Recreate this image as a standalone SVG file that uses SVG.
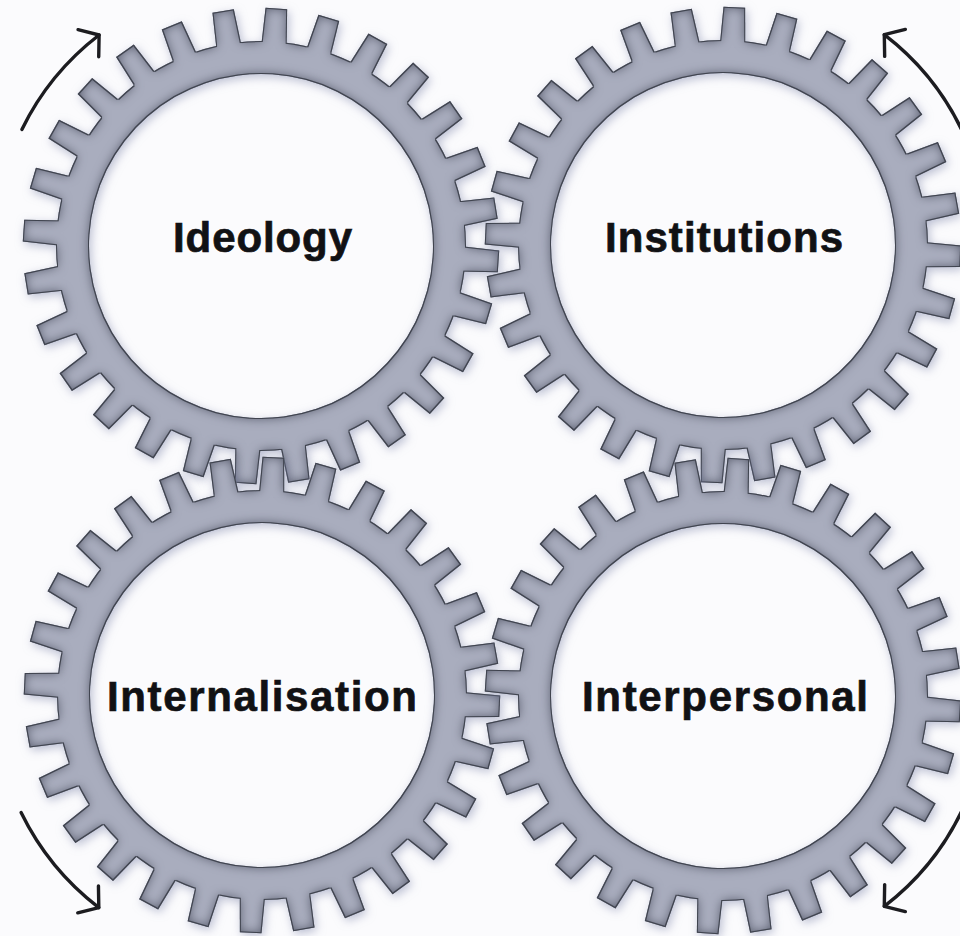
<svg xmlns="http://www.w3.org/2000/svg" xmlns:xlink="http://www.w3.org/1999/xlink" width="960" height="936" viewBox="0 0 960 936">
<style>
.lbl{font-family:"Liberation Sans",Arial,Helvetica,sans-serif;font-weight:bold;font-size:42px;fill:#111114;stroke:#111114;stroke-width:0.7}
.gfill{fill:#a9adbe}
.arrow{fill:none;stroke:#1c1c20;stroke-width:3.4;stroke-linecap:round;marker-end:url(#chev)}
</style>
<defs>
<filter id="gearfx" x="-15%" y="-15%" width="130%" height="130%" color-interpolation-filters="sRGB">
<feGaussianBlur in="SourceAlpha" stdDeviation="5" result="sb"/>
<feOffset in="sb" dx="2" dy="3" result="so"/>
<feFlood flood-color="#7a82a8" flood-opacity="0.5" result="sc"/>
<feComposite in="sc" in2="so" operator="in" result="shadow"/>
<feComponentTransfer in="SourceAlpha" result="inv"><feFuncA type="table" tableValues="1 0"/></feComponentTransfer>
<feGaussianBlur in="inv" stdDeviation="5.5" result="ib"/>
<feFlood flood-color="#363a4a" flood-opacity="0.75" result="ic"/>
<feComposite in="ic" in2="ib" operator="in" result="ics"/>
<feComposite in="ics" in2="SourceAlpha" operator="in" result="inner"/>
<feMorphology in="SourceAlpha" operator="erode" radius="1.4" result="er"/>
<feComposite in="SourceAlpha" in2="er" operator="out" result="edge"/>
<feFlood flood-color="#40444f" result="ec"/>
<feComposite in="ec" in2="edge" operator="in" result="edgeC"/>
<feMerge><feMergeNode in="shadow"/><feMergeNode in="SourceGraphic"/><feMergeNode in="inner"/><feMergeNode in="edgeC"/></feMerge>
</filter>
<marker id="chev" markerUnits="userSpaceOnUse" viewBox="-18 -20 22 40" refX="0" refY="0" markerWidth="22" markerHeight="40" orient="auto" overflow="visible">
<path d="M -13.5 -17 L 0 0 L -13.5 17" fill="none" stroke="#1c1c20" stroke-width="3.4" stroke-linecap="round" stroke-linejoin="round"/>
</marker>
<polygon id="tooth" points="198,-12.8 238,-10.8 238,10.8 198,12.8"/>
<g id="gear">
<path d="M -205 0 A 205 205 0 1 0 205 0 A 205 205 0 1 0 -205 0 Z M -172 0 A 172 172 0 1 1 172 0 A 172 172 0 1 1 -172 0 Z" fill-rule="evenodd"/>
<use xlink:href="#tooth" href="#tooth"/>
<use xlink:href="#tooth" href="#tooth" transform="rotate(12.857)"/>
<use xlink:href="#tooth" href="#tooth" transform="rotate(25.714)"/>
<use xlink:href="#tooth" href="#tooth" transform="rotate(38.571)"/>
<use xlink:href="#tooth" href="#tooth" transform="rotate(51.429)"/>
<use xlink:href="#tooth" href="#tooth" transform="rotate(64.286)"/>
<use xlink:href="#tooth" href="#tooth" transform="rotate(77.143)"/>
<use xlink:href="#tooth" href="#tooth" transform="rotate(90)"/>
<use xlink:href="#tooth" href="#tooth" transform="rotate(102.857)"/>
<use xlink:href="#tooth" href="#tooth" transform="rotate(115.714)"/>
<use xlink:href="#tooth" href="#tooth" transform="rotate(128.571)"/>
<use xlink:href="#tooth" href="#tooth" transform="rotate(141.429)"/>
<use xlink:href="#tooth" href="#tooth" transform="rotate(154.286)"/>
<use xlink:href="#tooth" href="#tooth" transform="rotate(167.143)"/>
<use xlink:href="#tooth" href="#tooth" transform="rotate(180)"/>
<use xlink:href="#tooth" href="#tooth" transform="rotate(192.857)"/>
<use xlink:href="#tooth" href="#tooth" transform="rotate(205.714)"/>
<use xlink:href="#tooth" href="#tooth" transform="rotate(218.571)"/>
<use xlink:href="#tooth" href="#tooth" transform="rotate(231.429)"/>
<use xlink:href="#tooth" href="#tooth" transform="rotate(244.286)"/>
<use xlink:href="#tooth" href="#tooth" transform="rotate(257.143)"/>
<use xlink:href="#tooth" href="#tooth" transform="rotate(270)"/>
<use xlink:href="#tooth" href="#tooth" transform="rotate(282.857)"/>
<use xlink:href="#tooth" href="#tooth" transform="rotate(295.714)"/>
<use xlink:href="#tooth" href="#tooth" transform="rotate(308.571)"/>
<use xlink:href="#tooth" href="#tooth" transform="rotate(321.429)"/>
<use xlink:href="#tooth" href="#tooth" transform="rotate(334.286)"/>
<use xlink:href="#tooth" href="#tooth" transform="rotate(347.143)"/>
</g>
</defs>
<rect x="0" y="0" width="960" height="936" fill="#fbfbfd"/>
<g id="gear-ideology">
<g class="gfill" filter="url(#gearfx)"><use xlink:href="#gear" href="#gear" transform="translate(261,246) rotate(3.7)"/></g>
<text class="lbl" x="173" y="252" textLength="179" lengthAdjust="spacing">Ideology</text>
</g>
<g id="gear-institutions">
<g class="gfill" filter="url(#gearfx)"><use xlink:href="#gear" href="#gear" transform="translate(723,245) rotate(2.73)"/></g>
<text class="lbl" x="605" y="252" textLength="238" lengthAdjust="spacing">Institutions</text>
</g>
<g id="gear-internalisation">
<g class="gfill" filter="url(#gearfx)"><use xlink:href="#gear" href="#gear" transform="translate(262,695) rotate(2.73)"/></g>
<text class="lbl" x="107" y="711" textLength="310" lengthAdjust="spacing">Internalisation</text>
</g>
<g id="gear-interpersonal">
<g class="gfill" filter="url(#gearfx)"><use xlink:href="#gear" href="#gear" transform="translate(723,696) rotate(3.7)"/></g>
<text class="lbl" x="582" y="711" textLength="286" lengthAdjust="spacing">Interpersonal</text>
</g>
<g id="connectors">
<path class="arrow" d="M 21.9 129.4 A 266 266 0 0 1 99.1 35"/>
<path class="arrow" d="M 963.2 133 A 265 265 0 0 0 884.3 34.7"/>
<path class="arrow" d="M 21.1 812.5 A 268 268 0 0 0 98.8 907.6"/>
<path class="arrow" d="M 965.1 803.8 A 265 265 0 0 1 884.3 906.3"/>
</g>
</svg>
